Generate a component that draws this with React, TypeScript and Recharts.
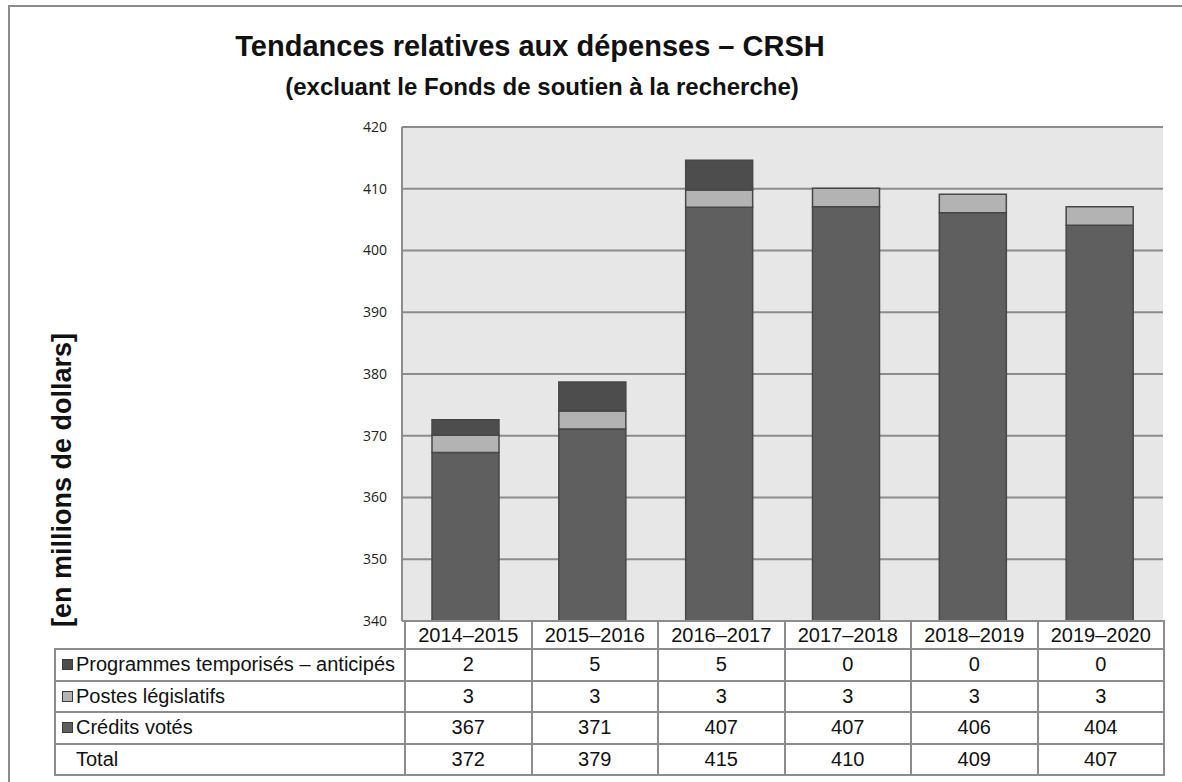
import { Bar, BarChart, CartesianGrid, XAxis, YAxis } from 'recharts';

// Exercices
const years = ['2014–2015', '2015–2016', '2016–2017', '2017–2018', '2018–2019', '2019–2020'];

// hauteurs des barres (millions $)
const creditsVotes = [367.3, 371.1, 407.0, 407.1, 406.1, 404.1];
const postesLegislatifs = [2.8, 2.9, 2.8, 3.0, 3.0, 3.0];
const programmesTemporises = [2.5, 4.7, 4.8, 0, 0, 0];

// valeurs arrondies du tableau
const tabTemporises = [2, 5, 5, 0, 0, 0];
const tabLegislatifs = [3, 3, 3, 3, 3, 3];
const tabVotes = [367, 371, 407, 407, 406, 404];
const tabTotal = [372, 379, 415, 410, 409, 407];

const yTicks = [340, 350, 360, 370, 380, 390, 400, 410, 420];

const C_VOTES = '#5f5f5f';
const C_LEGIS = '#b3b3b3';
const C_TEMPO = '#4d4d4d';
const GRID = '#8c8c8c';

const data = years.map((y, i) => ({
  year: y,
  votes: creditsVotes[i],
  legis: postesLegislatifs[i],
  tempo: programmesTemporises[i],
}));

const rows = [
  { label: 'Programmes temporisés – anticipés', color: C_TEMPO, values: tabTemporises },
  { label: 'Postes législatifs', color: C_LEGIS, values: tabLegislatifs },
  { label: 'Crédits votés', color: C_VOTES, values: tabVotes },
  { label: 'Total', color: null, values: tabTotal },
];

const cell: React.CSSProperties = {
  border: `2px solid ${GRID}`,
  textAlign: 'center',
  padding: 0,
};

function Swatch({ color }: { color: string | null }) {
  return (
    <span
      style={{
        display: 'inline-block',
        width: 9,
        height: 9,
        marginRight: 3,
        marginBottom: 1,
        background: color ?? 'transparent',
        border: color ? '1px solid #3a3a3a' : '1px solid transparent',
      }}
    />
  );
}

export default function App() {
  return (
    <div
      style={{
        position: 'fixed',
        left: 0,
        top: 0,
        width: 1182,
        height: 782,
        overflow: 'hidden',
        fontFamily: '"Liberation Sans", Arial, sans-serif',
        color: '#111',
        background: '#fff',
      }}
    >
      <div
        style={{
          position: 'absolute',
          left: 8,
          top: 5,
          width: 1200,
          height: 800,
          border: `2px solid ${GRID}`,
        }}
      />

      <div
        style={{
          position: 'absolute',
          left: 0,
          width: 1060,
          top: 32,
          textAlign: 'center',
          fontSize: 29,
          fontWeight: 'bold',
          lineHeight: 1,
        }}
      >
        Tendances relatives aux dépenses – CRSH
      </div>
      <div
        style={{
          position: 'absolute',
          left: 0,
          width: 1084,
          top: 75,
          textAlign: 'center',
          fontSize: 24,
          fontWeight: 'bold',
          lineHeight: 1,
        }}
      >
        (excluant le Fonds de soutien à la recherche)
      </div>

      <div
        style={{
          position: 'absolute',
          left: 62,
          top: 480,
          transform: 'translate(-50%, -50%) rotate(-90deg)',
          whiteSpace: 'nowrap',
          fontSize: 27,
          fontWeight: 'bold',
          lineHeight: 1,
        }}
      >
        [en millions de dollars]
      </div>

      <div style={{ position: 'absolute', left: 300, top: 110 }}>
        <BarChart
          width={880}
          height={530}
          data={data}
          margin={{ top: 17, right: 17, bottom: 19, left: 0 }}
        >
          <CartesianGrid vertical={false} stroke={GRID} strokeWidth={2} fill="#e7e7e7" />
          <XAxis dataKey="year" hide />
          <YAxis
            width={102}
            domain={[340, 420]}
            ticks={yTicks}
            allowDataOverflow
            interval={0}
            tickLine={false}
            tickMargin={9}
            axisLine={{ stroke: GRID, strokeWidth: 2 }}
            tick={{ fontSize: 14, fill: '#222', fontFamily: '"Open Sans", sans-serif' }}
          />
          <Bar dataKey="votes" stackId="s" fill={C_VOTES} stroke="#474747" strokeWidth={1.5} barSize={67} isAnimationActive={false} />
          <Bar dataKey="legis" stackId="s" fill={C_LEGIS} stroke="#474747" strokeWidth={1.5} barSize={67} isAnimationActive={false} />
          <Bar dataKey="tempo" stackId="s" fill={C_TEMPO} stroke="#474747" strokeWidth={1.5} barSize={67} isAnimationActive={false} />
        </BarChart>
      </div>

      <table
        style={{
          position: 'absolute',
          left: 54,
          top: 620,
          width: 1111,
          borderCollapse: 'collapse',
          tableLayout: 'fixed',
          fontSize: 20,
        }}
      >
        <colgroup>
          <col style={{ width: 350 }} />
          {years.map((y) => (
            <col key={y} />
          ))}
        </colgroup>
        <tbody>
          <tr style={{ height: 28 }}>
            <td style={{ padding: 0 }} />
            {years.map((y) => (
              <td key={y} style={{ ...cell, background: '#fff' }}>
                {y}
              </td>
            ))}
          </tr>
          {rows.map((r) => (
            <tr key={r.label} style={{ height: 31.5, background: '#fff' }}>
              <td style={{ ...cell, textAlign: 'left', paddingLeft: 6, whiteSpace: 'nowrap' }}>
                <Swatch color={r.color} />
                {r.label}
              </td>
              {r.values.map((v, i) => (
                <td key={i} style={cell}>
                  {v}
                </td>
              ))}
            </tr>
          ))}
        </tbody>
      </table>
    </div>
  );
}
